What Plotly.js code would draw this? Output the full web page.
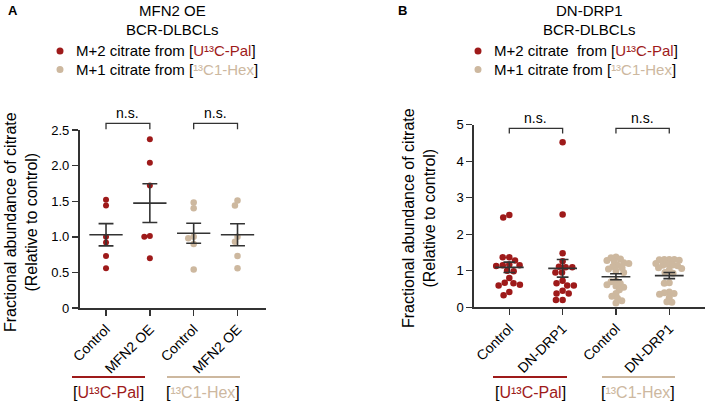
<!DOCTYPE html>
<html><head><meta charset="utf-8">
<script src="https://cdn.plot.ly/plotly-3.0.1.min.js"></script>
<style>html,body{margin:0;padding:0;background:#fff}#chart{width:708px;height:403px}</style>
</head><body><div id="chart"></div>
<script>
// ---------- data ----------
const catsA = ['Control', 'MFN2 OE', 'Control', 'MFN2 OE'];
const palCtrlA = [1.52, 1.44, 1.00, 0.92, 0.73, 0.56];
const palMfnA  = [2.37, 2.04, 1.72, 1.01, 1.00, 0.70];
const hexCtrlA = [1.48, 1.40, 0.98, 1.00, 0.90, 0.54];
const hexMfnA  = [1.51, 1.44, 1.00, 0.93, 0.73, 0.56];
const yTickValsA = [0, 0.5, 1, 1.5, 2, 2.5];
const yTickTextA = ['0', '0.5', '1.0', '1.5', '2.0', '2.5'];

const catsB = ['Control', 'DN-DRP1', 'Control', 'DN-DRP1'];
const palCtrlB = [2.53, 2.46, 1.37, 1.37, 1.28, 1.15, 1.17, 1.15, 1.13, 0.99, 1.00, 0.80, 0.66, 0.60, 0.62, 0.67, 0.42, 0.33];
const palDrpB  = [4.52, 2.54, 1.48, 1.26, 1.10, 1.11, 1.10, 0.95, 0.95, 0.73, 0.60, 0.66, 0.60, 0.45, 0.38, 0.38, 0.20, 0.20];
const hexCtrlB = [1.38, 1.36, 1.32, 1.28, 1.25, 1.22, 1.20, 1.15, 1.12, 1.08, 1.05, 1.00, 0.95, 0.72, 0.70, 0.65, 0.62, 0.58, 0.55, 0.48, 0.38, 0.30, 0.25, 0.18, 0.12];
const hexDrpB  = [1.31, 1.31, 1.31, 1.30, 1.29, 1.20, 1.18, 1.16, 1.15, 1.14, 1.08, 1.06, 1.02, 0.95, 0.93, 0.67, 0.66, 0.42, 0.40, 0.38, 0.36, 0.27, 0.15, 0.14];
const yTickValsB = [0, 1, 2, 3, 4, 5];
const yTickTextB = ['0', '1', '2', '3', '4', '5'];

// ---------- style ----------
const W = 708, H = 403;
const RED = '#9e1a1a', BEIGE = '#cdb89f', INK = '#333333';
const FONT = 'Arial, "Liberation Sans", sans-serif';
const px = x => x / W, py = y => 1 - y / H;

const domA = {x: [px(79.5), px(266)], y: [py(308), py(130)], xr: [-0.605, 3.65], ymax: 2.5};
const domB = {x: [px(474), px(705)], y: [py(307.3), py(124.7)], xr: [-0.662, 3.67], ymax: 5};
function kX(d) { return (d.x[1] - d.x[0]) * W / (d.xr[1] - d.xr[0]); }
function kY(d) { return (d.y[1] - d.y[0]) * H / d.ymax; }
function yPaper(d, v) { return d.y[0] + v / d.ymax * (d.y[1] - d.y[0]); }

// beeswarm layout computed from values
function swarm(vals, center, ky, kx, dia) {
  const order = vals.map((v, i) => i).sort((a, b) => vals[b] - vals[a]);
  const placed = [], xs = new Array(vals.length);
  for (const p of order) {
    const y = vals[p] * ky;
    const cands = [0];
    for (const q of placed) {
      const dy = Math.abs(q.y - y);
      if (dy < dia) { const dx = Math.sqrt(dia * dia - dy * dy); cands.push(q.x + dx, q.x - dx); }
    }
    cands.sort((a, b) => Math.abs(a) - Math.abs(b) || a - b);
    let best = 0;
    for (const c of cands) {
      if (placed.every(q => (q.x - c) ** 2 + (q.y - y) ** 2 >= dia * dia - 1e-6)) { best = c; break; }
    }
    placed.push({x: best, y});
    xs[p] = center + best / kx;
  }
  return xs;
}
function mean(a) { return a.reduce((s, v) => s + v, 0) / a.length; }
function sem(a) { const m = mean(a); return Math.sqrt(a.reduce((s, v) => s + (v - m) ** 2, 0) / (a.length - 1) / a.length); }

const traces = [];
function addPanel(groups, d, xa, ya, mw, cw) {
  const lx = [], ly = [];
  groups.forEach((g, i) => {
    traces.push({
      type: 'scatter', mode: 'markers', xaxis: xa, yaxis: ya, showlegend: false, hoverinfo: 'y',
      x: swarm(g.vals, i, kY(d), kX(d), g.dia), y: g.vals,
      marker: {color: g.color, size: g.size, line: {width: 0}}
    });
    const m = mean(g.vals), s = sem(g.vals);
    lx.push(i - mw, i + mw, null, i, i, null, i - cw, i + cw, null, i - cw, i + cw, null);
    ly.push(m, m, null, m - s, m + s, null, m + s, m + s, null, m - s, m - s, null);
  });
  traces.push({type: 'scatter', mode: 'lines', xaxis: xa, yaxis: ya, showlegend: false, hoverinfo: 'skip',
    x: lx, y: ly, line: {color: INK, width: 1.6}});
}
addPanel([
  {vals: palCtrlA, color: RED, dia: 5.6, size: 6}, {vals: palMfnA, color: RED, dia: 5.6, size: 6},
  {vals: hexCtrlA, color: BEIGE, dia: 5.6, size: 6.5}, {vals: hexMfnA, color: BEIGE, dia: 5.6, size: 6.5}],
  domA, 'x', 'y', 0.38, 0.17);
addPanel([
  {vals: palCtrlB, color: RED, dia: 6.6, size: 6.5}, {vals: palDrpB, color: RED, dia: 6.6, size: 6.5},
  {vals: hexCtrlB, color: BEIGE, dia: 5.0, size: 7}, {vals: hexDrpB, color: BEIGE, dia: 5.0, size: 7}],
  domB, 'x2', 'y2', 0.27, 0.11);

function xax(d, cats, anchor) {
  return {domain: d.x, range: d.xr, tickvals: [0, 1, 2, 3], ticktext: cats, tickangle: -45, anchor,
    ticks: 'outside', ticklen: 6, tickwidth: 1.4, tickcolor: INK, showline: true, linecolor: INK, linewidth: 1.6,
    showgrid: false, zeroline: false, tickfont: {family: FONT, size: 14, color: '#000'}};
}
function yax(d, tv, tt, anchor) {
  return {domain: d.y, range: [0, d.ymax], tickvals: tv, ticktext: tt, anchor,
    ticks: 'outside', ticklen: 6, tickwidth: 1.4, tickcolor: INK, showline: true, linecolor: INK, linewidth: 1.6,
    showgrid: false, zeroline: false, tickfont: {family: FONT, size: 13, color: '#000'}};
}

const shapes = [], ann = [];
function bracket(d, xref, a, b, top, drop, label) {
  const y1 = yPaper(d, top), y0 = yPaper(d, drop);
  shapes.push({type: 'path', xref, yref: 'paper', path: `M ${a},${y0} L ${a},${y1} L ${b},${y1} L ${b},${y0}`,
    line: {color: INK, width: 1.3}});
  ann.push({xref, yref: 'paper', x: (a + b) / 2, y: y1, yanchor: 'bottom', yshift: 0, text: label, showarrow: false,
    font: {family: FONT, size: 14, color: '#000'}});
}
bracket(domA, 'x', 0, 1, 2.594, 2.51, 'n.s.');
bracket(domA, 'x', 2, 3, 2.594, 2.51, 'n.s.');
bracket(domB, 'x2', 0, 1, 4.90, 4.76, 'n.s.');
bracket(domB, 'x2', 2, 3, 4.90, 4.76, 'n.s.');

const palTxt = '<span style="color:' + RED + '">U¹³C-Pal</span>';
const hexTxt = '<span style="color:' + BEIGE + '">¹³C1-Hex</span>';
function txt(x, y, text, size, anchor, extra) {
  ann.push(Object.assign({xref: 'paper', yref: 'paper', x: px(x), y: py(y), text, showarrow: false,
    xanchor: anchor || 'center', yanchor: 'middle', font: {family: FONT, size, color: '#000'}}, extra || {}));
}
// panel letters and titles
txt(13, 10, '<b>A</b>', 13);
txt(402, 10, '<b>B</b>', 13);
txt(172, 10, 'MFN2 OE', 15);
txt(172, 29, 'BCR-DLBCLs', 15);
txt(589, 10, 'DN-DRP1', 15);
txt(589, 29, 'BCR-DLBCLs', 15);
// legends
function dot(x, y, color) {
  shapes.push({type: 'circle', xref: 'paper', yref: 'paper', xsizemode: 'pixel', ysizemode: 'pixel',
    xanchor: px(x), yanchor: py(y), x0: -3.5, x1: 3.5, y0: -3.5, y1: 3.5, fillcolor: color, line: {width: 0}});
}
dot(60, 51, RED); dot(60, 69.5, BEIGE);
txt(74, 51, 'M+2 citrate from [' + palTxt + ']', 15, 'left');
txt(74, 69.5, 'M+1 citrate from [' + hexTxt + ']', 15, 'left');
dot(478, 51, RED); dot(478, 69.5, BEIGE);
txt(492, 51, 'M+2 citrate&nbsp; from [' + palTxt + ']', 15, 'left');
txt(492, 69.5, 'M+1 citrate from [' + hexTxt + ']', 15, 'left');
// y titles
const yTitle = 'Fractional abundance of citrate<br>(Relative to control)';
txt(21, 222, yTitle, 16, 'center', {textangle: -90});
txt(419, 218, yTitle, 16, 'center', {textangle: -90});
// group labels under axes
function groupLine(x0, x1, y, color) {
  shapes.push({type: 'line', xref: 'paper', yref: 'paper', x0: px(x0), x1: px(x1), y0: py(y), y1: py(y),
    line: {color, width: 2}});
}
groupLine(72, 145, 377, RED); groupLine(167, 240, 377, BEIGE);
groupLine(493, 567, 377, RED); groupLine(602, 675, 377, BEIGE);
txt(108, 392, '[' + palTxt + ']', 16);
txt(203, 392, '[' + hexTxt + ']', 16);
txt(530, 392, '[' + palTxt + ']', 16);
txt(638, 392, '[' + hexTxt + ']', 16);

const layout = {
  width: W, height: H, margin: {l: 0, r: 0, t: 0, b: 0}, paper_bgcolor: '#fff', plot_bgcolor: 'rgba(0,0,0,0)',
  showlegend: false, font: {family: FONT, color: '#000'},
  xaxis: xax(domA, catsA, 'y'), yaxis: yax(domA, yTickValsA, yTickTextA, 'x'),
  xaxis2: xax(domB, catsB, 'y2'), yaxis2: yax(domB, yTickValsB, yTickTextB, 'x2'),
  shapes, annotations: ann
};
Plotly.newPlot('chart', traces, layout, {staticPlot: true, displayModeBar: false});
</script></body></html>
